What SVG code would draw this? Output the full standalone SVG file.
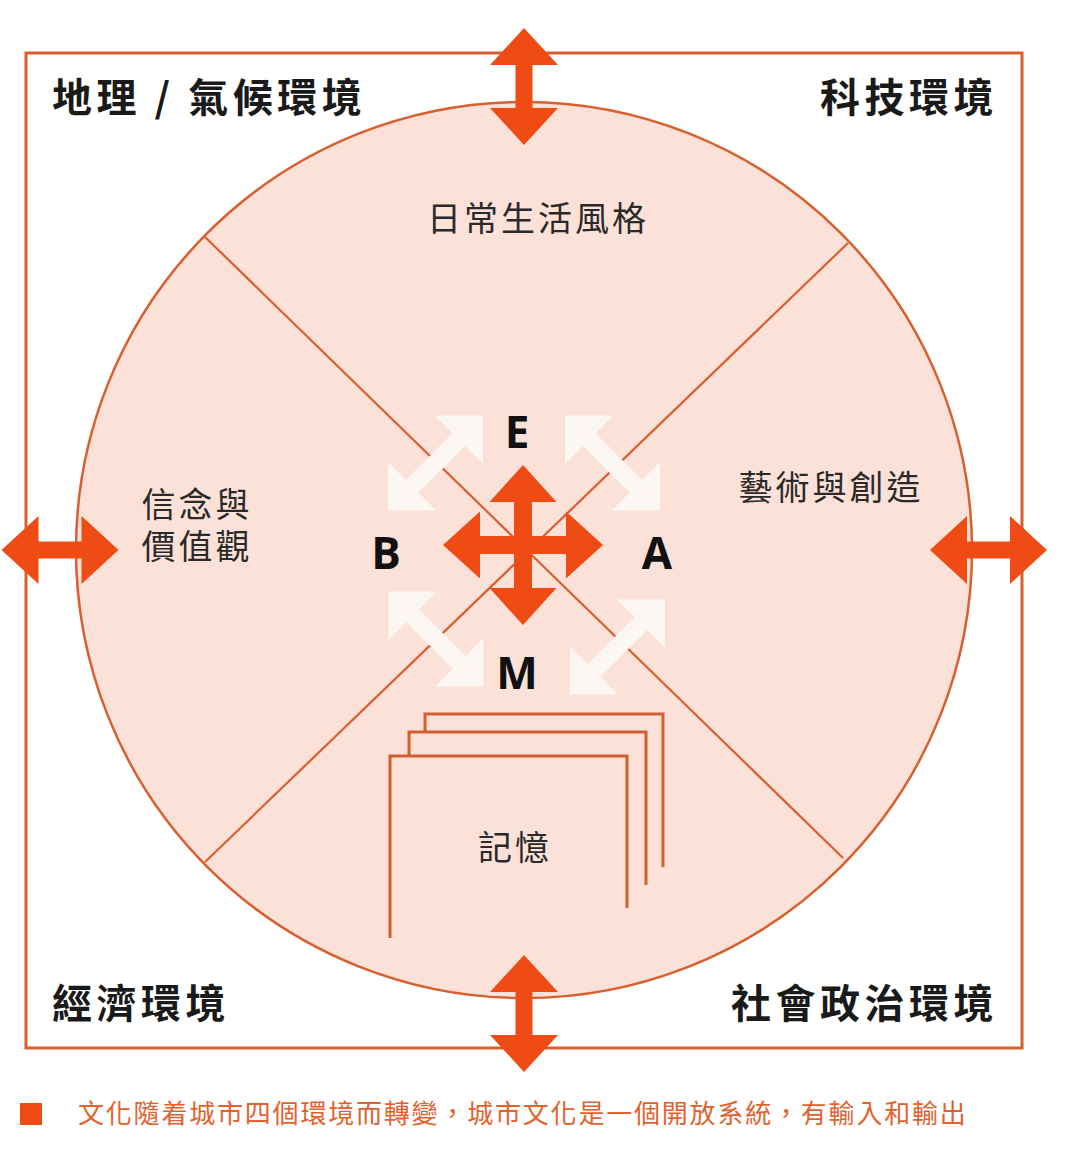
<svg xmlns="http://www.w3.org/2000/svg" width="1080" height="1152" viewBox="0 0 1080 1152">
<style>
.frame{fill:none;stroke:#d8602f;stroke-width:3}
.ln{fill:none;stroke:#d8602f;stroke-width:2.2}
.sheet{fill:none;stroke:#d0602f;stroke-width:3}
.arr{fill:#ef4b14}
.warr{fill:#fdf7f4}
.corner{font-family:"Noto Sans CJK TC","Noto Sans CJK SC",sans-serif;font-weight:700;font-size:40px;fill:#1a1a1a;letter-spacing:4.5px}
.lab{font-family:"Noto Sans CJK TC","Noto Sans CJK SC",sans-serif;font-weight:400;font-size:34px;fill:#2a2a2a;letter-spacing:3px}
.let{font-family:"Open Sans","Noto Sans",sans-serif;font-weight:700;font-size:44px;fill:#111;text-anchor:middle}
.leg{font-family:"Noto Sans CJK TC","Noto Sans CJK SC",sans-serif;font-size:26px;fill:#e2622e;letter-spacing:1.8px}
</style>
<defs>
<path id="dbl117" d="M-58.5,0 L-21.5,-34 L-21.5,-8.5 L21.5,-8.5 L21.5,-34 L58.5,0 L21.5,34 L21.5,8.5 L-21.5,8.5 L-21.5,34 Z"/>
<path id="dbl160" d="M-80,0 L-43,-33.5 L-43,-9 L43,-9 L43,-33.5 L80,0 L43,33.5 L43,9 L-43,9 L-43,33.5 Z"/>
<path id="dbl134" d="M-67,0 L-33,-34 L-33,-9 L33,-9 L33,-34 L67,0 L33,34 L33,9 L-33,9 L-33,34 Z"/>
</defs>
<rect width="1080" height="1152" fill="#ffffff"/>
<g id="frame">
<rect class="frame" x="26" y="53" width="996" height="995"/>
</g>
<g id="circle">
<circle cx="524" cy="550" r="448" fill="#fce1d8" stroke="#d8602f" stroke-width="2.5"/>
</g>
<g id="connectors">
<line class="ln" x1="205" y1="237" x2="843" y2="858"/>
<line class="ln" x1="848" y1="243" x2="205" y2="862"/>
</g>
<g id="memory">
<path class="sheet" d="M425,732 V714 H663 V867"/>
<path class="sheet" d="M409,756 V732 H646 V885"/>
<path class="sheet" d="M390,938 V756 H627 V908"/>
<text class="lab" x="515" y="860" text-anchor="middle">記憶</text>
</g>
<g id="outer-arrows">
<use href="#dbl117" class="arr" transform="translate(524,86.5) rotate(90)"/>
<use href="#dbl117" class="arr" transform="translate(524,1013.5) rotate(90)"/>
<use href="#dbl117" class="arr" transform="translate(60,550)"/>
<use href="#dbl117" class="arr" transform="translate(988.5,550)"/>
</g>
<g id="white-arrows">
<use href="#dbl134" class="warr" transform="translate(435.5,463) rotate(-45)"/>
<use href="#dbl134" class="warr" transform="translate(612.5,463) rotate(45)"/>
<use href="#dbl134" class="warr" transform="translate(436,639) rotate(45)"/>
<use href="#dbl134" class="warr" transform="translate(617.5,647) rotate(-45)"/>
</g>
<g id="center-cross">
<use href="#dbl160" class="arr" transform="translate(523,545)"/>
<use href="#dbl160" class="arr" transform="translate(523,545) rotate(90)"/>
</g>
<g id="letters">
<text class="let" x="517" y="448">E</text>
<text class="let" x="386" y="569">B</text>
<text class="let" x="657" y="569">A</text>
<text class="let" x="517" y="689">M</text>
</g>
<g id="labels">
<text class="lab" x="197" y="517" text-anchor="middle">信念與<tspan x="197" dy="42">價值觀</tspan></text>
<text class="lab" x="538" y="231" text-anchor="middle">日常生活風格</text>
<text class="lab" x="831" y="500" text-anchor="middle">藝術與創造</text>
</g>
<g id="corners">
<text class="corner" x="52" y="112">地理 / 氣候環境</text>
<text class="corner" x="998" y="112" text-anchor="end">科技環境</text>
<text class="corner" x="52" y="1018">經濟環境</text>
<text class="corner" x="998" y="1018" text-anchor="end">社會政治環境</text>
</g>
<g id="legend">
<rect x="20" y="1103" width="22" height="22" fill="#ef4b14"/>
<text class="leg" x="78" y="1123">文化隨着城市四個環境而轉變，城市文化是一個開放系統，有輸入和輸出</text>
</g>
</svg>
